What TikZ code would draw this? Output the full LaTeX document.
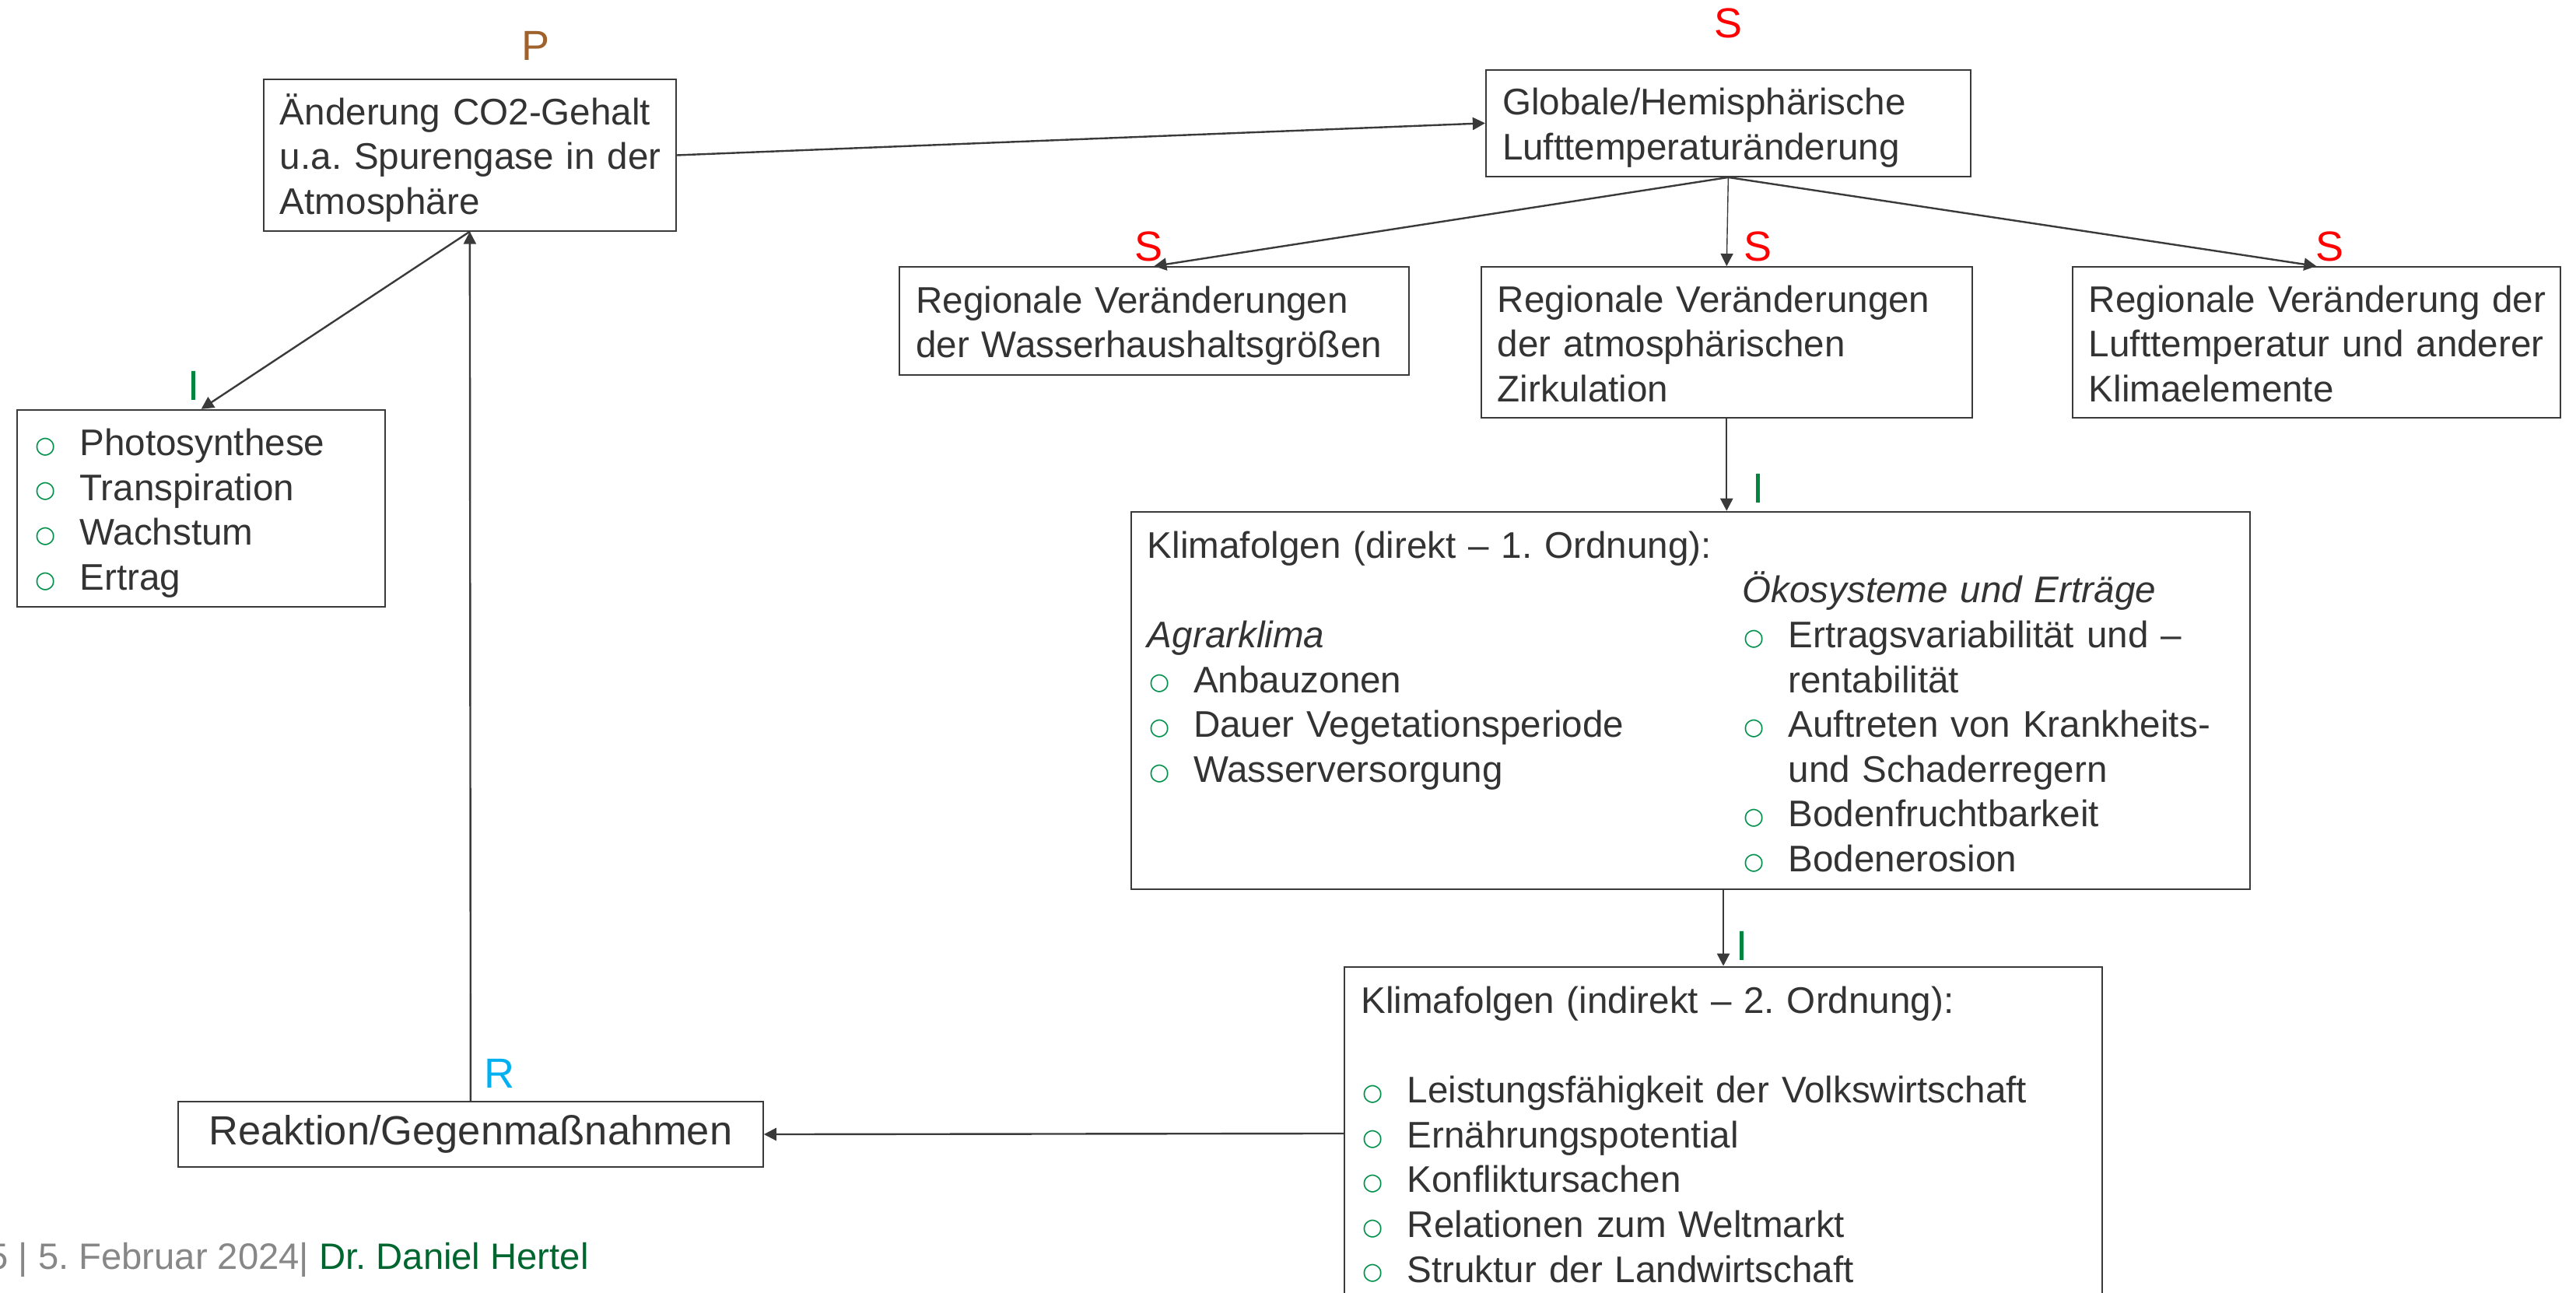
\documentclass[tikz,border=0pt]{standalone}
\usepackage{fontspec}
\usepackage{array}
\setmainfont{Liberation Sans}
\newfontfamily\bulfont{DejaVu Sans}
\usetikzlibrary{arrows.meta}
\frenchspacing
\definecolor{txt}{HTML}{333333}
\definecolor{linec}{HTML}{3A3A3A}
\definecolor{pbrown}{HTML}{A0622D}
\definecolor{sred}{HTML}{FF0000}
\definecolor{igreen}{HTML}{00853F}
\definecolor{rcyan}{HTML}{00B0F0}
\definecolor{bulgreen}{HTML}{00904A}
\definecolor{footgray}{HTML}{878787}
\definecolor{footgreen}{HTML}{00662F}
\newcommand\mystrut{\rule[-2.6pt]{0pt}{14.4pt}}
\newcommand\bul{\makebox[14.8pt][l]{\hspace{0.6pt}\raisebox{0.8pt}{\textcolor{bulgreen}{\fontsize{7.5}{9}\bulfont ○}}}}
\newcommand\ind{\hspace*{14.8pt}}
\newcommand\lines[1]{{\renewcommand\arraystretch{0}\begin{tabular}{@{}>{\mystrut}l@{}}#1\end{tabular}}}
\tikzset{
  box/.style={draw=linec, line width=0.5pt, anchor=north west, inner xsep=5.28pt, inner ysep=0pt,
    align=left, text=txt, font=\fontsize{11.9}{14.4}\selectfont},
  lab/.style={font=\fontsize{13.5}{16}\selectfont, inner sep=0pt},
  arr/.style={draw=linec, line width=0.6pt, -{Triangle[length=4pt,width=4pt]}},
}
\begin{document}
\begin{tikzpicture}[x=0.5279pt, y=-0.5279pt]
\useasboundingbox (0,0) rectangle (1568,787);
\clip (0,0) rectangle (1568,787);

% boxes
\node[box, text width=121.94pt, minimum height=48.57pt] (co2) at (160,48)
  {\lines{Änderung CO2-Gehalt\\u.a. Spurengase in der\\Atmosphäre}};
\node[box, text width=145.17pt, minimum height=34.31pt] (glob) at (904,42)
  {\lines{Globale/Hemisphärische\\Lufttemperaturänderung}};
\node[box, text width=153.09pt, minimum height=34.84pt] (wass) at (547,162)
  {\lines{Regionale Veränderungen\\der Wasserhaushaltsgrößen}};
\node[box, text width=147.28pt, minimum height=48.57pt] (atm) at (901,162)
  {\lines{Regionale Veränderungen\\der atmosphärischen\\Zirkulation}};
\node[box, text width=146.23pt, minimum height=48.57pt] (luft) at (1261,162)
  {\lines{Regionale Veränderung der\\Lufttemperatur und anderer\\Klimaelemente}};
\node[box, text width=107.69pt, minimum height=63.35pt] (photo) at (10,249)
  {\lines{\bul Photosynthese\\\bul Transpiration\\\bul Wachstum\\\bul Ertrag}};
\node[box, text width=348.94pt, minimum height=121.42pt] (direkt) at (688,311)
  {{\renewcommand\arraystretch{0}%
   \begin{tabular}{@{}>{\mystrut}p{191.1pt}@{}>{\mystrut}l@{}}
   Klimafolgen (direkt – 1. Ordnung): & \\
   & \textit{Ökosysteme und Erträge}\\
   \textit{Agrarklima} & \bul Ertragsvariabilität und –\\
   \bul Anbauzonen & \ind rentabilität\\
   \bul Dauer Vegetationsperiode & \bul Auftreten von Krankheits-\\
   \bul Wasserversorgung & \ind und Schaderregern\\
   & \bul Bodenfruchtbarkeit\\
   & \bul Bodenerosion
   \end{tabular}}};
\node[box, text width=232.8pt, minimum height=107.16pt] (indirekt) at (818,588)
  {\lines{Klimafolgen (indirekt – 2. Ordnung):\\ \\
   \bul Leistungsfähigkeit der Volkswirtschaft\\
   \bul Ernährungspotential\\
   \bul Konfliktursachen\\
   \bul Relationen zum Weltmarkt\\
   \bul Struktur der Landwirtschaft}};
\node[box, text width=177.37pt, minimum height=21.12pt, align=center,
  font=\fontsize{13.1}{15.7}\selectfont] (reak) at (108,670) {Reaktion/Gegenmaßnahmen};

% labels
\node[lab, text=pbrown] (lP) at (325.9,28) {P};
\node[lab, text=sred] (lS0) at (1052,14.4) {S};
\node[lab, text=sred] (lS1) at (699,150) {S};
\node[lab, text=sred] (lS2) at (1070,150) {S};
\node[lab, text=sred] (lS3) at (1418,150) {S};
\node[lab, text=igreen] (lI1) at (1070.3,297.5) {I};
\node[lab, text=igreen] (lI2) at (1060.5,576) {I};
\node[lab, text=igreen] (lI0) at (118,235) {I};
\node[lab, text=rcyan] (lR) at (303.9,653.7) {R};

% footer
\node[anchor=base west, inner sep=0pt, font=\fontsize{11.8}{14}\selectfont, text=footgray] (foot)
  at (-7.8,772.4) {5 | 5. Februar 2024| \textcolor{footgreen}{Dr. Daniel Hertel}};

% connectors
\draw[arr] (co2.east) -- (glob.west);
\draw[arr] (glob.south) -- (wass.north);
\draw[arr, line width=0.35pt] (glob.south) -- (atm.north);
\draw[arr] (glob.south) -- (luft.north);
\draw[arr] (atm.south) -- (atm.south |- direkt.north);
\draw[arr] (direkt.south -| indirekt.north) -- (indirekt.north);
\draw[arr] (indirekt.west) -- (reak.east);
\draw[arr] (reak.north) -- (co2.south);
\draw[arr] (co2.south) -- (photo.north);
\end{tikzpicture}
\end{document}
